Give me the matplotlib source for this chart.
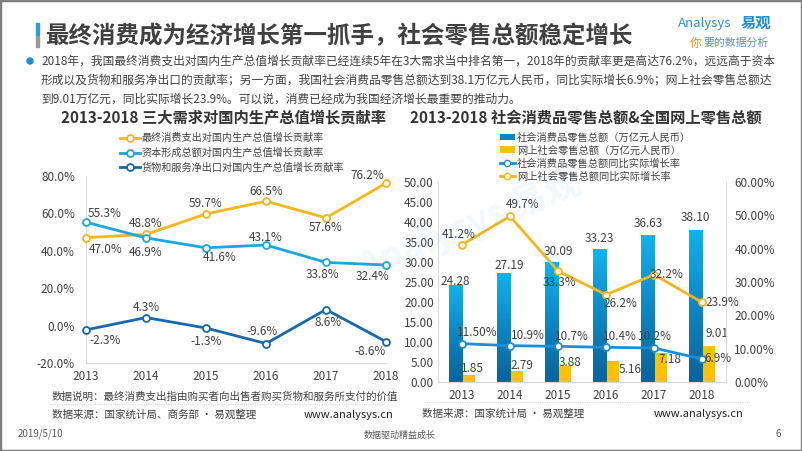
import numpy as np
import matplotlib
matplotlib.use('Agg')
import matplotlib.pyplot as plt
from matplotlib.lines import Line2D
from matplotlib.patches import Patch, Rectangle, Ellipse
from matplotlib.colors import LinearSegmentedColormap

plt.rcParams['font.family'] = ['Noto Sans CJK SC', 'DejaVu Sans']

W, H = 802, 451

# ---- data: left chart (contribution rates, %)
years = [2013, 2014, 2015, 2016, 2017, 2018]
consume = [47.0, 48.8, 59.7, 66.5, 57.6, 76.2]
capital = [55.3, 46.9, 41.6, 43.1, 33.8, 32.4]
netexp = [-2.3, 4.3, -1.3, -9.6, 8.6, -8.6]
left_names = ['最终消费支出对国内生产总值增长贡献率',
              '资本形成总额对国内生产总值增长贡献率',
              '货物和服务净出口对国内生产总值增长贡献率']

# ---- data: right chart
retail = [24.28, 27.19, 30.09, 33.23, 36.63, 38.10]
online = [1.85, 2.79, 3.88, 5.16, 7.18, 9.01]
retail_g = [11.5, 10.9, 10.7, 10.4, 10.2, 6.9]
online_g = [41.2, 49.7, 33.3, 26.2, 32.2, 23.9]
retail_g_lbl = ['11.50%', '10.9%', '10.7%', '10.4%', '10.2%', '6.9%']
right_names = ['社会消费品零售总额（万亿元人民币）', '网上社会零售总额（万亿元人民币）',
               '社会消费品零售总额同比实际增长率', '网上社会零售总额同比实际增长率']

ORANGE = '#F5B61A'
CYAN = '#1AA7E0'
DBLUE = '#1868B0'
TXT = '#404040'
GRID = '#D9D9D9'

fig = plt.figure(figsize=(W / 100, H / 100), dpi=100)


def box(l, t, r, b):
    return [l / W, 1 - b / H, (r - l) / W, (b - t) / H]


def ftxt(x, y, s, **kw):
    fig.text(x / W, 1 - y / H, s, **kw)


# frame
fig.patches.append(Rectangle((0, 0), 1, 1, transform=fig.transFigure, fill=False,
                             edgecolor='#808080', linewidth=2.5))

# header
fig.patches.append(Rectangle((36 / W, 1 - 47 / H), 3 / W, 12 / H, transform=fig.transFigure,
                             color='#9A9A9A'))
fig.patches.append(Rectangle((36 / W, 1 - 35 / H), 3 / W, 12 / H, transform=fig.transFigure,
                             color='#2E9BD6'))
ftxt(45, 36, '最终消费成为经济增长第一抓手，社会零售总额稳定增长', fontsize=16.9,
     fontweight='bold', color='#404040', va='center')
ftxt(678, 23, 'Analysys', fontsize=9.5, color='#1E8FD5', style='italic', va='center')
ftxt(741, 23, '易观', fontsize=11, color='#1E8FD5', fontweight='bold', va='center')
ftxt(690, 43, '你', fontsize=8.5, color='#F08A24', style='italic', va='center')
ftxt(703, 43, '要的数据分析', fontsize=7.8, color='#5A8FC0', style='italic', va='center')

fig.patches.append(Ellipse((30 / W, 1 - 61 / H), 6 / W, 6 / H, transform=fig.transFigure,
                           color='#1E8FD5'))
body = ['2018年，我国最终消费支出对国内生产总值增长贡献率已经连续5年在3大需求当中排名第一，2018年的贡献率更是高达76.2%，远远高于资本',
        '形成以及货物和服务净出口的贡献率；另一方面，我国社会消费品零售总额达到38.1万亿元人民币，同比实际增长6.9%；网上社会零售总额达',
        '到9.01万亿元，同比实际增长23.9%。可以说，消费已经成为我国经济增长最重要的推动力。']
for i, line in enumerate(body):
    ftxt(41, 61 + i * 19.3, line, fontsize=8.45, color=TXT, va='center')

# ---------------- left chart
ax = fig.add_axes(box(86, 176, 386, 363))
series = [(consume, ORANGE), (capital, CYAN), (netexp, DBLUE)]
handles = []
for vals, c in series:
    ln, = ax.plot(years, vals, color=c, lw=2, marker='o', ms=5, mfc='white', mec=c, mew=1.3,
                  clip_on=False, zorder=3)
    handles.append(ln)
ax.set_xlim(2013, 2018)
ax.set_ylim(-20, 80)
ax.set_yticks([-20, 0, 20, 40, 60, 80])
ax.set_yticklabels(['%.1f%%' % v for v in ax.get_yticks()])
ax.set_xticks(years)
ax.tick_params(length=0, labelsize=8.5, labelcolor=TXT)
ax.tick_params(axis='y', pad=8)
ax.tick_params(axis='x', pad=5)
for s in ['top', 'right']:
    ax.spines[s].set_visible(False)
for s in ['left', 'bottom']:
    ax.spines[s].set_color(GRID)
ax.patch.set_alpha(0)

offs = [
    [(3, -12, 'left'), (0, 11, 'center'), (0, 10, 'center'), (0, 10, 'center'), (0, -10, 'center'), (-19, 8, 'center')],
    [(2, 9, 'left'), (0, -15, 'center'), (14, -10, 'center'), (0, 8, 'center'), (-4, -12, 'center'), (-13, -11, 'center')],
    [(3, -11, 'left'), (0, 10, 'center'), (0, -13, 'center'), (-4, 12, 'center'), (2, -13, 'center'), (-16, -10, 'center')],
]
for (vals, c), off in zip(series, offs):
    for x, v, (dx, dy, ha) in zip(years, vals, off):
        ax.annotate('%.1f%%' % v, (x, v), xytext=(dx * 0.72, dy * 0.72), textcoords='offset points',
                    ha=ha, va='center', fontsize=8.5, color=TXT, annotation_clip=False)

fig.legend(handles, left_names, loc='upper left', bbox_to_anchor=(115 / W, 1 - 128 / H),
           frameon=False, fontsize=7.3, handlelength=2.0, labelspacing=0.45, handletextpad=0.15,
           labelcolor=TXT, borderpad=0)

ftxt(224, 118, '2013-2018 三大需求对国内生产总值增长贡献率', fontsize=11.0, fontweight='bold',
     color='#333333', ha='center', va='center')
ftxt(52, 397, '数据说明：最终消费支出指由购买者向出售者购买货物和服务所支付的价值', fontsize=7.6,
     color=TXT, va='center')
fig.add_artist(Line2D([50 / W, 386 / W], [1 - 404 / H] * 2, color=GRID, lw=0.8, ls=(0, (1, 1))))
ftxt(52, 415, '数据来源：国家统计局、商务部 · 易观整理', fontsize=7.6, color=TXT, va='center')
ftxt(393, 415, 'www.analysys.cn', fontsize=8, color='#222222', va='center', ha='right')

# ---------------- right chart
ax2 = fig.add_axes(box(438, 182, 726, 382))
x = np.arange(len(years))
bw = 0.28
bars = ax2.bar(x - bw / 2, retail, bw, color='#0C8CCB', zorder=2)
cmap = LinearSegmentedColormap.from_list('g', ['#0A6398', '#0E86C4', '#12B2EE'])
grad = np.linspace(0, 1, 100).reshape(-1, 1)
for b in bars:
    bx, by = b.get_x(), b.get_y()
    im = ax2.imshow(grad, extent=(bx, bx + b.get_width(), by, by + b.get_height()),
                    origin='lower', cmap=cmap, aspect='auto', zorder=2.1)
    im.set_clip_path(b)
ax2.bar(x + bw / 2, online, bw, color='#FFC000', zorder=2)
ax2.set_xlim(-0.5, 5.5)
ax2.set_ylim(0, 50)
ax2.set_yticks(np.arange(0, 51, 5))
ax2.set_yticklabels(['%.2f' % v for v in np.arange(0, 51, 5)])
ax2.set_xticks(x)
ax2.set_xticklabels([str(y) for y in years])
ax2.tick_params(length=0, labelsize=8.5, labelcolor=TXT)
ax2.tick_params(axis='y', pad=3)
ax2.tick_params(axis='x', pad=5)
for s in ['top', 'right']:
    ax2.spines[s].set_visible(False)
for s in ['left', 'bottom']:
    ax2.spines[s].set_color(GRID)
ax2.patch.set_alpha(0)

ax3 = ax2.twinx()
ax3.plot(x, retail_g, color='#1A8FD8', lw=2, marker='o', ms=5, mfc='white', mec='#1A8FD8',
         mew=1.3, zorder=3)
ax3.plot(x, online_g, color=ORANGE, lw=2, marker='o', ms=5, mfc='white', mec=ORANGE,
         mew=1.3, zorder=3)
ax3.set_ylim(0, 60)
ax3.set_yticks(np.arange(0, 61, 10))
ax3.set_yticklabels(['%.2f%%' % v for v in np.arange(0, 61, 10)])
ax3.tick_params(length=0, labelsize=8.5, labelcolor=TXT, pad=6)
for s in ['top', 'left', 'bottom']:
    ax3.spines[s].set_visible(False)
ax3.spines['right'].set_color(GRID)

boff = [(0, 3), (6, 8), (7, 10), (0, 11), (1, 12), (0, 12)]
for xi, v, (dx, dy) in zip(x, retail, boff):
    ax2.annotate('%.2f' % v, (xi - bw / 2, v), xytext=(dx * 0.72, dy * 0.72), textcoords='offset points',
                 ha='center', va='center', fontsize=8.5, color=TXT)
yoff = [(4, 6), (5, 5), (5, 4), (17, -8), (9, -6), (8, 12)]
for xi, v, (dx, dy) in zip(x, online, yoff):
    ax2.annotate('%.2f' % v, (xi + bw / 2, v), xytext=(dx * 0.72, dy * 0.72), textcoords='offset points',
                 ha='center', va='center', fontsize=8.5, color=TXT)
goff = [(15, 11), (18, 10), (14, 10), (14, 11), (1, 12), (16, 0)]
for xi, v, s, (dx, dy) in zip(x, retail_g, retail_g_lbl, goff):
    ax3.annotate(s, (xi, v), xytext=(dx * 0.72, dy * 0.72), textcoords='offset points',
                 ha='center', va='center', fontsize=8.5, color=TXT)
ooff = [(-3, 10), (13, 12), (1, -12), (14, -9), (13, 0), (20, 0)]
for xi, v, (dx, dy) in zip(x, online_g, ooff):
    ax3.annotate('%.1f%%' % v, (xi, v), xytext=(dx * 0.72, dy * 0.72), textcoords='offset points',
                 ha='center', va='center', fontsize=8.5, color=TXT)

rh = [Patch(facecolor='#0E86C4'), Patch(facecolor='#FFC000'),
      Line2D([], [], color='#1A8FD8', lw=2, marker='o', ms=4.5, mfc='white', mec='#1A8FD8'),
      Line2D([], [], color=ORANGE, lw=2, marker='o', ms=4.5, mfc='white', mec=ORANGE)]
fig.legend(rh, right_names, loc='upper left', bbox_to_anchor=(495 / W, 1 - 127 / H),
           frameon=False, fontsize=7.4, handlelength=1.4, handleheight=0.6, labelspacing=0.25,
           handletextpad=0.25, labelcolor=TXT, borderpad=0)

ftxt(586, 118, '2013-2018 社会消费品零售总额&全国网上零售总额', fontsize=11.0, fontweight='bold',
     color='#333333', ha='center', va='center')
fig.add_artist(Line2D([424 / W, 750 / W], [1 - 402 / H] * 2, color=GRID, lw=0.8, ls=(0, (1, 1))))
ftxt(422, 414, '数据来源：国家统计局 · 易观整理', fontsize=7.6, color=TXT, va='center')
ftxt(743, 414, 'www.analysys.cn', fontsize=8, color='#222222', va='center', ha='right')

# watermark
ftxt(470, 225, 'Analysys 易观', fontsize=26, color='#1E8FD5', alpha=0.06, rotation=22,
     ha='center', va='center', fontweight='bold')

# footer
ftxt(18, 434, '2019/5/10', fontsize=7, color='#595959', va='center')
ftxt(400, 435, '数据驱动精益成长', fontsize=6.5, color='#595959', va='center', ha='center')
ftxt(778, 434, '6', fontsize=7, color='#595959', va='center', ha='center')

fig.savefig('out.png', dpi=100)
